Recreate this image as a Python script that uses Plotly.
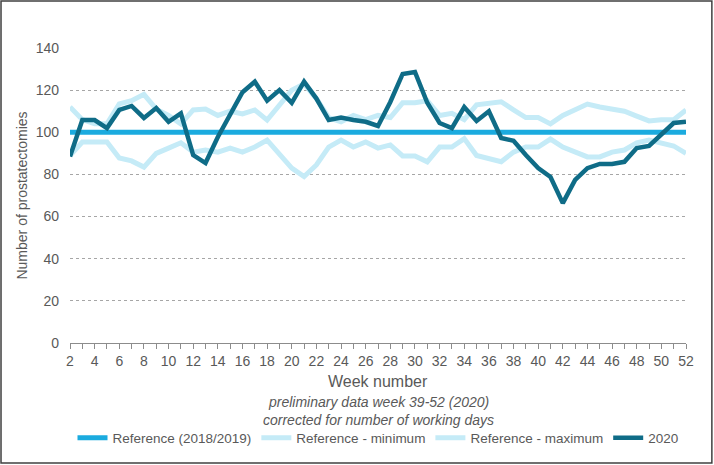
import plotly.graph_objects as go

weeks = list(range(2, 53))
reference = [100] * len(weeks)
ref_min = [89, 95.4, 95.4, 95.4, 87.8, 86.4, 83.5, 90, 92.5, 95, 90.6, 91.6, 90.6, 92.5, 90.6,
           93, 96.3, 90, 83, 79, 84.5, 93, 96.3, 93, 95.4, 92.5, 94, 88.8, 88.8, 86, 93,
           93, 97, 89, 87.8, 86, 90.6, 93, 93, 96.8, 93, 90.6, 88.3, 88.3, 90.6, 91.6, 95,
           96.3, 95, 93.5, 90]
ref_max = [112, 106, 104, 104, 113.5, 115, 118, 111, 108, 104, 110.6, 111, 108, 110, 108.7,
           110.6, 105.8, 113, 120, 123, 116, 107, 105, 108, 106, 108, 107, 114, 114, 115, 108,
           109, 106, 113, 114, 114.5, 110.6, 107, 107, 104, 108, 111, 113.4, 112, 111, 110,
           107.7, 105.4, 106, 106, 110.6]
y2020 = [88.5, 105.8, 105.8, 102, 110.6, 112.5, 106.8, 111.5, 105, 109, 89.2, 85.4, 97.8, 108,
         119, 124, 115, 120, 114, 124, 116, 105.8, 107, 105.8, 105, 103, 114.4, 127.7, 128.6,
         114, 104.4, 102, 112, 105.4, 110, 97.3, 96, 89.2, 83, 78.8, 66.4, 77.4, 83, 85, 85,
         86, 92.5, 93.5, 98.7, 104.4, 105]
x_ticks = list(range(2, 53, 2))
y_ticks = list(range(0, 141, 20))

FONT = "Liberation Sans, Arial, sans-serif"
TXT = "#595959"
C_REF = "#1BABDF"
C_LIGHT = "#C5EBF7"
C_2020 = "#0F6C87"

fig = go.Figure()
fig.add_trace(go.Scatter(x=weeks, y=reference, mode="lines", name="Reference (2018/2019)",
                         line=dict(color=C_REF, width=5)))
fig.add_trace(go.Scatter(x=weeks, y=ref_min, mode="lines", name="Reference - minimum",
                         line=dict(color=C_LIGHT, width=5)))
fig.add_trace(go.Scatter(x=weeks, y=ref_max, mode="lines", name="Reference - maximum",
                         line=dict(color=C_LIGHT, width=5)))
fig.add_trace(go.Scatter(x=weeks, y=y2020, mode="lines", name="2020",
                         line=dict(color=C_2020, width=4.5)))

fig.update_layout(
    width=714, height=465,
    margin=dict(l=70, r=28, t=48, b=122),
    paper_bgcolor="white", plot_bgcolor="white",
    font=dict(family=FONT, size=13, color=TXT),
    showlegend=True,
    legend=dict(orientation="h", x=0.5, xanchor="center", y=-0.322, yanchor="middle",
                font=dict(size=13.5, color=TXT), itemwidth=30, tracegroupgap=0,
                bgcolor="rgba(0,0,0,0)"),
    xaxis=dict(range=[2, 52], tickmode="array", tickvals=x_ticks, ticktext=[str(t) for t in x_ticks],
               showgrid=False, zeroline=False, showline=True, linecolor="#8C8C8C", linewidth=1,
               ticks="outside", ticklen=5, tickcolor="#8C8C8C",
               minor=dict(ticks="outside", dtick=1, ticklen=5, tickcolor="#8C8C8C"),
               tickfont=dict(size=14, color=TXT)),
    yaxis=dict(range=[0, 140], tickmode="array", tickvals=y_ticks,
               showgrid=True, gridcolor="#A6A6A6", griddash="dot", gridwidth=1,
               zeroline=False, showline=False, ticks="", ticklabelstandoff=10,
               tickfont=dict(size=14, color=TXT),
               title=dict(text="Number of prostatectomies", font=dict(size=14, color=TXT), standoff=4)),
    annotations=[
        dict(text="Week number", xref="paper", yref="paper", x=0.5, y=-0.132, showarrow=False,
             font=dict(size=16, color=TXT), yanchor="middle"),
        dict(text="<i>preliminary data week 39-52 (2020)</i>", xref="paper", yref="paper", x=0.5, y=-0.2,
             showarrow=False, font=dict(size=14, color=TXT), yanchor="middle"),
        dict(text="<i>corrected for number of working days</i>", xref="paper", yref="paper", x=0.5, y=-0.261,
             showarrow=False, font=dict(size=14, color=TXT), yanchor="middle"),
    ],
    shapes=[
        dict(type="rect", xref="paper", yref="paper", x0=-0.112, x1=1.042, y0=-0.407, y1=1.159,
             line=dict(color="#404040", width=1.5), fillcolor="rgba(0,0,0,0)", layer="below"),
    ],
)

fig.write_html("out.html", config={"displayModeBar": False},
               post_script="document.body.style.margin='0';")
